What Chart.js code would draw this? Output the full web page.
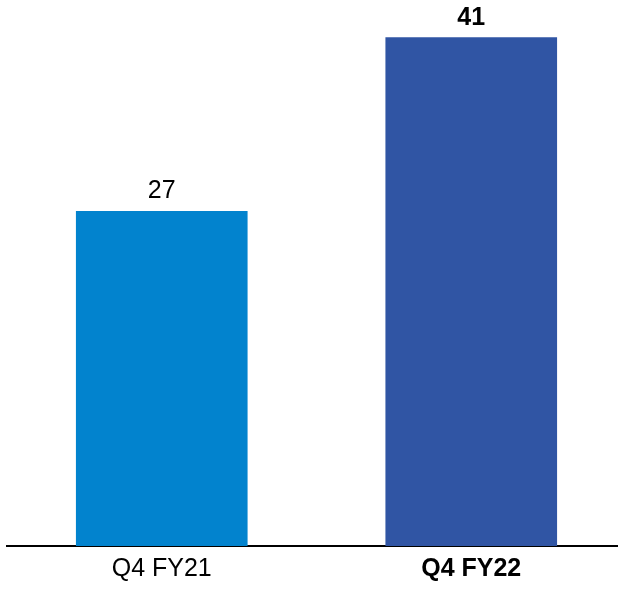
<!DOCTYPE html>
<html>
<head>
<meta charset="utf-8">
<script src="https://cdn.jsdelivr.net/npm/chart.js@4"></script>
<style>
  html, body { margin: 0; padding: 0; background: #fff; overflow: hidden; }
  #wrap { width: 626px; height: 589px; }
</style>
</head>
<body>
<div id="wrap"><canvas id="chart" width="626" height="589"></canvas></div>
<script>
// quarterly values
var categories = ['Q4 FY21', 'Q4 FY22'];
var values = [27, 41];
var barColors = ['#0283ce', '#3055a4'];
var boldIndex = 1;

var FONT = "'Liberation Sans', Arial, sans-serif";

// value labels above the bars
var valueLabels = {
    id: 'valueLabels',
    afterDatasetsDraw: function (chart) {
        var ctx = chart.ctx;
        var meta = chart.getDatasetMeta(0);
        ctx.save();
        ctx.fillStyle = '#000';
        ctx.textAlign = 'center';
        ctx.textBaseline = 'bottom';
        meta.data.forEach(function (bar, i) {
            ctx.font = (i === boldIndex ? 'bold ' : '') + '25px ' + FONT;
            ctx.fillText(String(values[i]), bar.x, bar.y - 7);
        });
        ctx.restore();
    }
};

new Chart(document.getElementById('chart'), {
    type: 'bar',
    data: {
        labels: categories,
        datasets: [{
            data: values,
            backgroundColor: barColors,
            borderWidth: 0,
            barPercentage: 0.5546,
            categoryPercentage: 1.0
        }]
    },
    options: {
        responsive: false,
        animation: false,
        layout: { padding: { left: 7, right: 0, top: 0, bottom: 4 } },
        plugins: { legend: { display: false }, tooltip: { enabled: false } },
        scales: {
            x: {
                grid: { display: false },
                border: { display: true, color: '#000', width: 2 },
                ticks: {
                    color: '#000',
                    padding: 3,
                    font: function (c) {
                        return { family: FONT, size: 25, lineHeight: 1.0, weight: c.index === boldIndex ? 'bold' : 'normal' };
                    }
                }
            },
            y: {
                display: false,
                min: 0,
                max: 44
            }
        }
    },
    plugins: [valueLabels]
});
</script>
</body>
</html>
